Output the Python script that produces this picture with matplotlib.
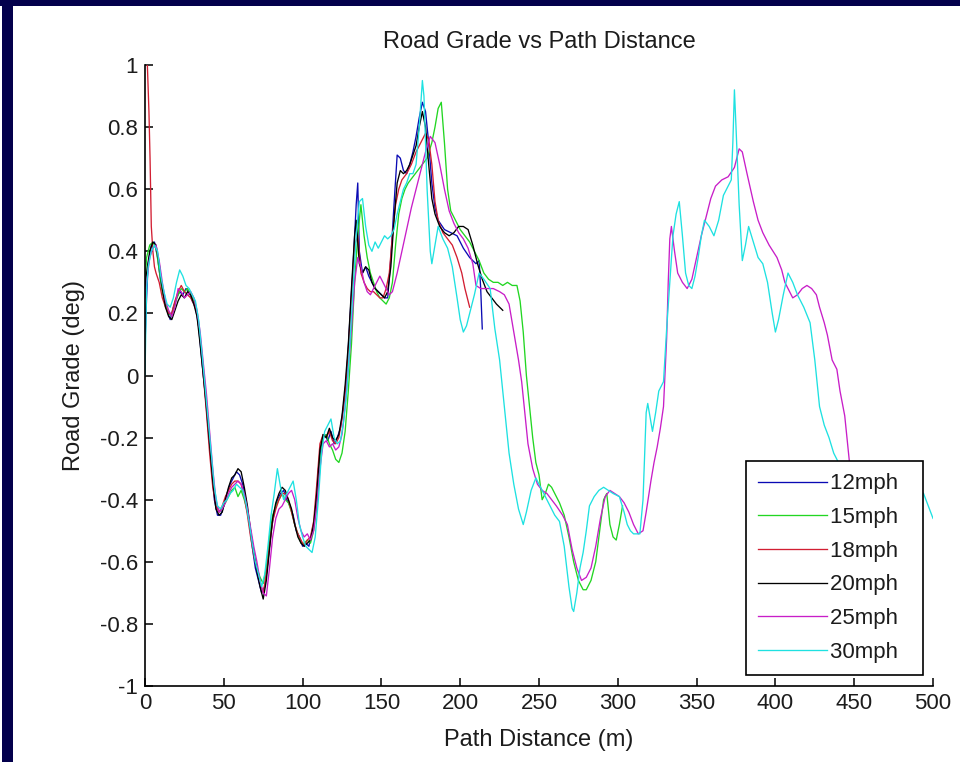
import matplotlib
matplotlib.use("Agg")
import matplotlib.pyplot as plt
from matplotlib.patches import Rectangle

plt.rcParams['font.family'] = ['Liberation Sans', 'DejaVu Sans']

# Road grade (deg) against path distance (m) for each test speed, as (distance, grade) pairs
mph12 = [(0, 0.10), (1, 0.25), (2, 0.36), (4, 0.42), (6, 0.43), (8, 0.38), (10, 0.30), (12, 0.25),
         (14, 0.21), (16, 0.18), (18, 0.22), (20, 0.25), (22, 0.27), (24, 0.26), (26, 0.28), (28, 0.27),
         (30, 0.24), (32, 0.22), (34, 0.16), (36, 0.05), (38, -0.05), (40, -0.17), (42, -0.28), (44, -0.40),
         (46, -0.45), (48, -0.45), (50, -0.42), (52, -0.38), (54, -0.35), (56, -0.33), (58, -0.31), (60, -0.32),
         (62, -0.35), (64, -0.40), (66, -0.47), (68, -0.55), (70, -0.62), (72, -0.66), (74, -0.70), (76, -0.68),
         (78, -0.60), (80, -0.50), (82, -0.44), (84, -0.40), (86, -0.38), (88, -0.37), (90, -0.40), (92, -0.42),
         (94, -0.45), (96, -0.50), (98, -0.52), (100, -0.55), (102, -0.54), (104, -0.55), (106, -0.50),
         (108, -0.45), (110, -0.30), (112, -0.22), (114, -0.19), (116, -0.21), (118, -0.18), (120, -0.22),
         (122, -0.20), (124, -0.17), (126, -0.10), (128, 0.00), (130, 0.18), (132, 0.35), (134, 0.55),
         (135, 0.62), (136, 0.40), (138, 0.33), (140, 0.35), (142, 0.32), (144, 0.30), (146, 0.28), (148, 0.27),
         (150, 0.26), (152, 0.25), (154, 0.25), (156, 0.38), (158, 0.55), (160, 0.71), (162, 0.70), (164, 0.66),
         (166, 0.65), (168, 0.68), (170, 0.72), (172, 0.77), (174, 0.83), (176, 0.88), (178, 0.85), (180, 0.75),
         (182, 0.62), (184, 0.54), (186, 0.50), (190, 0.47), (194, 0.46), (198, 0.45), (202, 0.41), (206, 0.38),
         (210, 0.36), (212, 0.37), (213, 0.28), (214, 0.15)]

mph15 = [(0, 0.30), (1, 0.38), (3, 0.42), (5, 0.43), (7, 0.41), (9, 0.34), (11, 0.27), (13, 0.23),
         (15, 0.20), (17, 0.19), (19, 0.23), (21, 0.26), (23, 0.28), (25, 0.27), (27, 0.28), (29, 0.26),
         (31, 0.24), (33, 0.20), (35, 0.12), (37, 0.02), (39, -0.10), (41, -0.22), (43, -0.33), (45, -0.41),
         (47, -0.44), (49, -0.43), (51, -0.41), (53, -0.39), (55, -0.37), (57, -0.36), (59, -0.39), (61, -0.37),
         (63, -0.40), (65, -0.44), (67, -0.50), (69, -0.57), (71, -0.62), (73, -0.65), (75, -0.67), (77, -0.62),
         (79, -0.52), (81, -0.45), (83, -0.42), (85, -0.40), (87, -0.38), (89, -0.40), (91, -0.41), (93, -0.44),
         (95, -0.48), (97, -0.51), (99, -0.54), (101, -0.54), (103, -0.53), (105, -0.54), (107, -0.50),
         (109, -0.42), (111, -0.28), (113, -0.20), (115, -0.19), (117, -0.22), (119, -0.24), (121, -0.27),
         (123, -0.28), (125, -0.25), (127, -0.18), (129, -0.05), (131, 0.10), (133, 0.30), (135, 0.45),
         (137, 0.55), (139, 0.45), (141, 0.38), (143, 0.33), (145, 0.30), (147, 0.27), (149, 0.25), (151, 0.24),
         (153, 0.23), (155, 0.25), (157, 0.30), (159, 0.42), (161, 0.52), (163, 0.57), (165, 0.60), (167, 0.62),
         (170, 0.64), (173, 0.66), (176, 0.68), (179, 0.70), (182, 0.75), (184, 0.80), (186, 0.86), (188, 0.88),
         (190, 0.75), (192, 0.60), (194, 0.53), (197, 0.50), (200, 0.47), (203, 0.45), (206, 0.43), (209, 0.40),
         (212, 0.37), (215, 0.33), (218, 0.31), (221, 0.30), (224, 0.30), (227, 0.29), (230, 0.30), (233, 0.29),
         (236, 0.29), (238, 0.24), (240, 0.14), (242, 0.00), (244, -0.10), (246, -0.20), (248, -0.28),
         (250, -0.32), (252, -0.40), (254, -0.38), (256, -0.35), (258, -0.36), (260, -0.38), (263, -0.41),
         (266, -0.45), (269, -0.52), (272, -0.60), (275, -0.66), (278, -0.69), (280, -0.69), (283, -0.66),
         (286, -0.60), (289, -0.48), (291, -0.40), (293, -0.38), (295, -0.48), (297, -0.52), (299, -0.53),
         (301, -0.48), (303, -0.42)]

mph18 = [(1.5, 1.00), (2.5, 0.85), (3.2, 0.70), (4, 0.48), (5, 0.40), (6, 0.35), (7, 0.33), (9, 0.30),
         (11, 0.25), (13, 0.22), (15, 0.20), (17, 0.20), (19, 0.24), (21, 0.27), (23, 0.29), (25, 0.27),
         (27, 0.26), (29, 0.25), (31, 0.23), (33, 0.20), (35, 0.12), (37, 0.00), (39, -0.12), (41, -0.25),
         (43, -0.36), (45, -0.42), (47, -0.44), (49, -0.42), (51, -0.39), (53, -0.37), (55, -0.35), (57, -0.34),
         (59, -0.34), (61, -0.35), (63, -0.39), (65, -0.45), (67, -0.52), (69, -0.58), (71, -0.62), (73, -0.67),
         (75, -0.70), (77, -0.64), (79, -0.55), (81, -0.47), (83, -0.43), (85, -0.40), (87, -0.38), (89, -0.38),
         (91, -0.40), (93, -0.44), (95, -0.48), (97, -0.51), (99, -0.53), (101, -0.55), (103, -0.53),
         (105, -0.52), (107, -0.47), (109, -0.35), (111, -0.22), (113, -0.19), (115, -0.20), (117, -0.18),
         (119, -0.21), (121, -0.22), (123, -0.20), (125, -0.14), (127, -0.05), (129, 0.08), (131, 0.25),
         (133, 0.42), (135, 0.45), (137, 0.33), (139, 0.30), (141, 0.28), (143, 0.27), (145, 0.27), (147, 0.26),
         (149, 0.25), (151, 0.25), (153, 0.28), (155, 0.33), (157, 0.45), (159, 0.55), (161, 0.60), (163, 0.63),
         (166, 0.65), (169, 0.68), (172, 0.72), (175, 0.75), (178, 0.78), (180, 0.76), (182, 0.68), (184, 0.56),
         (186, 0.50), (189, 0.46), (192, 0.44), (195, 0.42), (198, 0.38), (201, 0.33), (203, 0.28), (205, 0.24),
         (206, 0.22)]

mph20 = [(0, 0.28), (1, 0.33), (3, 0.40), (5, 0.43), (7, 0.42), (9, 0.36), (11, 0.28), (13, 0.22),
         (15, 0.19), (17, 0.18), (19, 0.21), (21, 0.24), (23, 0.26), (25, 0.25), (27, 0.27), (29, 0.26),
         (31, 0.23), (33, 0.19), (35, 0.10), (37, 0.00), (39, -0.10), (41, -0.22), (43, -0.34), (45, -0.43),
         (47, -0.45), (49, -0.44), (51, -0.40), (53, -0.36), (55, -0.33), (57, -0.32), (59, -0.30), (61, -0.31),
         (63, -0.36), (65, -0.42), (67, -0.50), (69, -0.57), (71, -0.63), (73, -0.68), (75, -0.72), (77, -0.66),
         (79, -0.56), (81, -0.46), (83, -0.41), (85, -0.38), (87, -0.36), (89, -0.37), (91, -0.40), (93, -0.43),
         (95, -0.48), (97, -0.52), (99, -0.54), (101, -0.55), (103, -0.54), (105, -0.53), (107, -0.48),
         (109, -0.38), (111, -0.24), (113, -0.19), (115, -0.20), (117, -0.17), (119, -0.20), (121, -0.21),
         (123, -0.19), (125, -0.13), (127, -0.03), (129, 0.10), (131, 0.28), (133, 0.45), (134, 0.50),
         (136, 0.36), (138, 0.33), (140, 0.35), (142, 0.34), (144, 0.30), (146, 0.28), (148, 0.27), (150, 0.26),
         (152, 0.25), (154, 0.27), (156, 0.35), (158, 0.50), (160, 0.62), (162, 0.66), (164, 0.65), (166, 0.66),
         (168, 0.68), (170, 0.71), (172, 0.74), (174, 0.80), (176, 0.85), (178, 0.80), (180, 0.68), (182, 0.57),
         (184, 0.52), (187, 0.48), (190, 0.46), (193, 0.45), (196, 0.46), (199, 0.48), (202, 0.48), (205, 0.47),
         (208, 0.42), (211, 0.36), (214, 0.31), (217, 0.27), (220, 0.25), (223, 0.23), (227, 0.21)]

mph25 = [(0, 0.25), (1, 0.30), (3, 0.38), (5, 0.41), (7, 0.42), (9, 0.37), (11, 0.30), (13, 0.24),
         (15, 0.21), (17, 0.19), (19, 0.22), (21, 0.28), (23, 0.27), (25, 0.25), (27, 0.26), (29, 0.27),
         (31, 0.25), (33, 0.21), (35, 0.14), (37, 0.04), (39, -0.06), (41, -0.18), (43, -0.30), (45, -0.40),
         (47, -0.44), (49, -0.43), (51, -0.41), (53, -0.38), (55, -0.36), (57, -0.35), (59, -0.34), (61, -0.35),
         (63, -0.38), (65, -0.43), (67, -0.49), (69, -0.55), (71, -0.60), (73, -0.66), (75, -0.70), (77, -0.71),
         (79, -0.62), (81, -0.52), (83, -0.46), (85, -0.43), (87, -0.42), (89, -0.40), (91, -0.38), (93, -0.37),
         (95, -0.40), (97, -0.46), (99, -0.50), (101, -0.52), (103, -0.51), (105, -0.53), (107, -0.50),
         (109, -0.42), (111, -0.30), (113, -0.22), (115, -0.21), (117, -0.23), (119, -0.22), (121, -0.24),
         (123, -0.23), (125, -0.19), (127, -0.10), (129, 0.02), (131, 0.15), (133, 0.30), (135, 0.38),
         (137, 0.35), (139, 0.30), (141, 0.27), (143, 0.26), (145, 0.28), (147, 0.30), (149, 0.32), (151, 0.30),
         (153, 0.28), (155, 0.26), (157, 0.27), (160, 0.33), (163, 0.40), (166, 0.47), (169, 0.54), (172, 0.60),
         (175, 0.66), (178, 0.72), (181, 0.77), (184, 0.75), (187, 0.68), (190, 0.60), (193, 0.53), (196, 0.49),
         (199, 0.46), (202, 0.44), (205, 0.41), (208, 0.36), (210, 0.29), (213, 0.28), (217, 0.28), (221, 0.28),
         (225, 0.27), (228, 0.26), (231, 0.23), (234, 0.14), (237, 0.05), (239, -0.02), (241, -0.12),
         (243, -0.22), (246, -0.30), (249, -0.35), (252, -0.37), (255, -0.38), (258, -0.40), (261, -0.42),
         (265, -0.45), (268, -0.48), (271, -0.56), (274, -0.62), (277, -0.66), (280, -0.65), (283, -0.62),
         (286, -0.55), (289, -0.46), (292, -0.39), (295, -0.37), (298, -0.38), (301, -0.39), (304, -0.41),
         (307, -0.44), (310, -0.48), (313, -0.51), (316, -0.50), (318, -0.44), (321, -0.34), (323, -0.28),
         (325, -0.23), (327, -0.17), (329, -0.10), (331, 0.12), (332, 0.30), (333, 0.44), (334, 0.48),
         (336, 0.40), (338, 0.33), (341, 0.30), (344, 0.28), (347, 0.31), (350, 0.38), (353, 0.45), (356, 0.51),
         (359, 0.57), (362, 0.61), (366, 0.63), (370, 0.64), (374, 0.67), (377, 0.73), (379, 0.72), (382, 0.65),
         (386, 0.56), (389, 0.50), (392, 0.46), (396, 0.42), (401, 0.38), (404, 0.34), (406, 0.30), (409, 0.27),
         (411, 0.25), (414, 0.26), (417, 0.28), (420, 0.29), (423, 0.28), (426, 0.26), (428, 0.22), (431, 0.17),
         (433, 0.13), (436, 0.05), (439, 0.02), (441, -0.05), (444, -0.13), (447, -0.28), (450, -0.36),
         (454, -0.42), (458, -0.47), (462, -0.50)]

mph30 = [(0, 0.00), (0.5, 0.15), (1, 0.28), (2, 0.35), (4, 0.40), (6, 0.42), (8, 0.40), (10, 0.32),
         (12, 0.27), (14, 0.23), (16, 0.22), (18, 0.25), (20, 0.30), (22, 0.34), (24, 0.32), (26, 0.29),
         (28, 0.28), (30, 0.26), (32, 0.24), (34, 0.18), (36, 0.08), (38, -0.03), (40, -0.14), (42, -0.25),
         (44, -0.36), (46, -0.42), (48, -0.43), (50, -0.41), (52, -0.40), (54, -0.38), (56, -0.37), (58, -0.35),
         (60, -0.36), (62, -0.37), (64, -0.41), (66, -0.47), (68, -0.54), (70, -0.60), (72, -0.64), (74, -0.68),
         (76, -0.64), (78, -0.55), (80, -0.45), (82, -0.38), (84, -0.30), (86, -0.36), (88, -0.40), (90, -0.38),
         (92, -0.36), (94, -0.34), (96, -0.40), (98, -0.48), (100, -0.52), (102, -0.55), (104, -0.56),
         (106, -0.57), (108, -0.52), (110, -0.40), (112, -0.25), (114, -0.18), (116, -0.16), (118, -0.14),
         (120, -0.20), (122, -0.22), (124, -0.21), (126, -0.15), (128, -0.05), (130, 0.10), (132, 0.28),
         (134, 0.45), (136, 0.56), (138, 0.57), (140, 0.48), (142, 0.42), (144, 0.40), (146, 0.43), (148, 0.41),
         (150, 0.43), (152, 0.45), (154, 0.44), (156, 0.45), (158, 0.47), (160, 0.52), (162, 0.56), (164, 0.60),
         (166, 0.62), (168, 0.65), (170, 0.65), (172, 0.68), (174, 0.80), (176, 0.95), (177, 0.90), (179, 0.60),
         (181, 0.40), (182, 0.36), (184, 0.42), (186, 0.48), (189, 0.44), (192, 0.41), (195, 0.35), (198, 0.25),
         (200, 0.18), (202, 0.14), (204, 0.16), (206, 0.20), (209, 0.26), (212, 0.33), (215, 0.31), (219, 0.28),
         (222, 0.15), (225, 0.05), (228, -0.10), (231, -0.25), (234, -0.35), (237, -0.43), (240, -0.48),
         (242, -0.44), (245, -0.37), (248, -0.33), (251, -0.36), (254, -0.39), (257, -0.42), (260, -0.45),
         (263, -0.47), (266, -0.55), (269, -0.68), (271, -0.75), (272, -0.76), (274, -0.70), (276, -0.62),
         (278, -0.57), (280, -0.50), (282, -0.42), (285, -0.39), (288, -0.37), (291, -0.36), (294, -0.37),
         (297, -0.38), (301, -0.39), (304, -0.44), (306, -0.48), (308, -0.50), (310, -0.51), (312, -0.51),
         (314, -0.51), (316, -0.40), (318, -0.12), (319, -0.09), (321, -0.15), (322, -0.18), (324, -0.12),
         (326, -0.05), (329, -0.02), (331, 0.15), (333, 0.30), (335, 0.45), (337, 0.52), (339, 0.56),
         (341, 0.45), (343, 0.33), (345, 0.29), (347, 0.28), (349, 0.32), (351, 0.38), (353, 0.45), (355, 0.50),
         (358, 0.48), (361, 0.45), (364, 0.50), (367, 0.58), (370, 0.61), (372, 0.63), (373, 0.75), (374, 0.92),
         (375, 0.80), (377, 0.55), (379, 0.37), (381, 0.42), (383, 0.48), (386, 0.43), (389, 0.38), (392, 0.36),
         (395, 0.30), (398, 0.20), (400, 0.14), (402, 0.18), (405, 0.26), (408, 0.33), (411, 0.30), (414, 0.26),
         (418, 0.22), (422, 0.17), (425, 0.05), (428, -0.10), (431, -0.16), (434, -0.20), (437, -0.25),
         (440, -0.28), (444, -0.31), (448, -0.34), (452, -0.37), (458, -0.40), (466, -0.42), (475, -0.40),
         (484, -0.37), (490, -0.36), (494, -0.38), (497, -0.42), (500, -0.46)]

series_labels = ['12mph', '15mph', '18mph', '20mph', '25mph', '30mph']
series_colors = ['#0a0ab4', '#22d622', '#d21e32', '#000000', '#c81ec8', '#1ee1e1']

x_ticks = [0, 50, 100, 150, 200, 250, 300, 350, 400, 450, 500]
y_ticks = [-1, -0.8, -0.6, -0.4, -0.2, 0, 0.2, 0.4, 0.6, 0.8, 1]
y_tick_labels = ['-1', '-0.8', '-0.6', '-0.4', '-0.2', '0', '0.2', '0.4', '0.6', '0.8', '1']

W, H = 965, 762
navy = '#03004c'
text_color = '#1c1c1c'

fig = plt.figure(figsize=(W / 100, H / 100), dpi=100)
fig.patch.set_facecolor('white')

# dark window frame along the top and left edges
fig.add_artist(Rectangle((0, 1 - 6 / H), 960 / W, 6 / H, transform=fig.transFigure,
                         facecolor=navy, edgecolor='none', zorder=0))
fig.add_artist(Rectangle((2 / W, 0), 11 / W, 1, transform=fig.transFigure,
                         facecolor=navy, edgecolor='none', zorder=0))

ax = fig.add_axes([145 / W, (H - 686) / H, 788 / W, 621 / H])
ax.set_facecolor('white')

for data, label, color in zip([mph12, mph15, mph18, mph20, mph25, mph30], series_labels, series_colors):
    xs = [p[0] for p in data]
    ys = [p[1] for p in data]
    ax.plot(xs, ys, color=color, lw=0.95, label=label + '  ')

ax.set_xlim(0, 500)
ax.set_ylim(-1, 1)
ax.spines['top'].set_visible(False)
ax.spines['right'].set_visible(False)
for s in ('left', 'bottom'):
    ax.spines[s].set_linewidth(1.2)
    ax.spines[s].set_color('black')

ax.set_xticks(x_ticks)
ax.set_xticklabels([str(t) for t in x_ticks])
ax.set_yticks(y_ticks)
ax.set_yticklabels(y_tick_labels)
ax.tick_params(direction='in', length=6, width=1.1, pad=5, labelsize=16, labelcolor=text_color)

ax.set_title('Road Grade vs Path Distance', fontsize=17, color=text_color, pad=12)
ax.set_xlabel('Path Distance (m)', fontsize=17, color=text_color, labelpad=11)
ax.set_ylabel('Road Grade (deg)', fontsize=17, color=text_color, labelpad=11)

leg = ax.legend(loc='lower right', bbox_to_anchor=((923 - 145) / 788, (686 - 675) / 621),
                borderaxespad=0, fontsize=16, frameon=True, fancybox=False, framealpha=1,
                edgecolor='black', handlelength=3.1, handletextpad=0.15, borderpad=0.55,
                labelspacing=0.57)
leg.get_frame().set_linewidth(1.2)
for t in leg.get_texts():
    t.set_color(text_color)

fig.savefig('out.png', dpi=100)
